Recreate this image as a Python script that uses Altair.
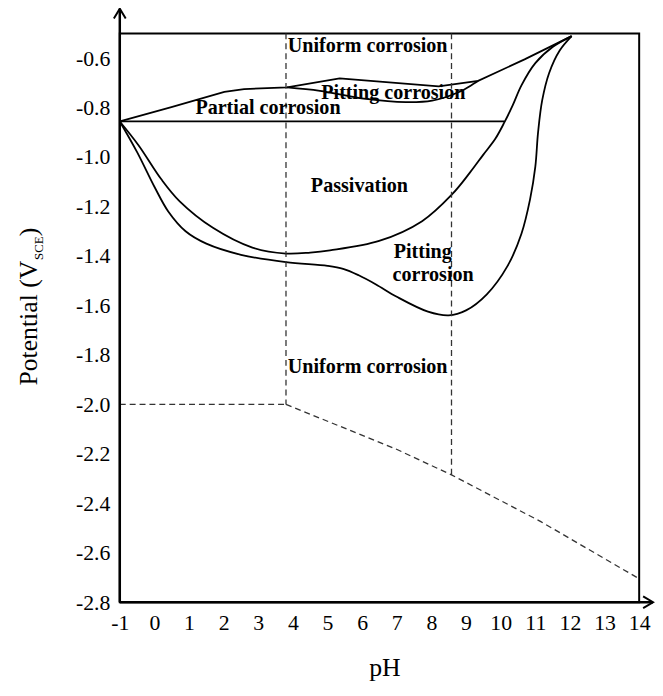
import altair as alt
import pandas as pd

# ---------------- data ----------------
x_ticks = list(range(-1, 15))
y_ticks = [-2.8, -2.6, -2.4, -2.2, -2.0, -1.8, -1.6, -1.4, -1.2, -1.0, -0.8, -0.6]

# upper boundary of "Partial corrosion" + upper branch of the pitting lens
a_x = [-1.0, 0.49, 2.02, 2.59, 3.83, 5.35, 8.21, 9.35, 10.69, 12.05]
a_y = [-0.856, -0.798, -0.736, -0.725, -0.718, -0.682, -0.714, -0.692, -0.605, -0.511]

# horizontal line (lower boundary of partial corrosion)
h_x = [-1.0, 10.11]
h_y = [-0.856, -0.856]

# lower branch of the upper pitting lens
b_x = [3.83, 4.78, 6.11, 7.26, 8.02, 8.78, 9.35]
b_y = [-0.718, -0.732, -0.765, -0.778, -0.772, -0.738, -0.692]

# inner curve (passivation lower boundary)
c_x = [-1.0, -0.46, 0.2, 0.73, 1.69, 2.83, 3.8, 4.5, 5.07, 6.49, 7.73, 8.6, 9.1, 9.5,
       9.85, 10.11, 10.35, 10.6, 11.0, 11.5, 12.05]
c_y = [-0.856, -0.952, -1.09, -1.179, -1.286, -1.366, -1.39, -1.386, -1.377, -1.339, -1.259,
       -1.15, -1.065, -0.99, -0.925, -0.859, -0.79, -0.71, -0.62, -0.555, -0.511]

# outer curve (pitting corrosion lower boundary)
d_x = [-1.0, -0.5, 0.0, 0.4, 0.9, 1.5, 2.5, 3.8, 5.0, 5.45, 5.9, 6.4, 7.0, 7.9, 8.5, 9.0,
       9.6, 10.2, 10.6, 10.85, 11.0, 11.08, 11.2, 11.4, 11.7, 12.05]
d_y = [-0.856, -0.98, -1.12, -1.22, -1.3, -1.35, -1.395, -1.425, -1.44, -1.452, -1.478,
       -1.515, -1.565, -1.625, -1.64, -1.62, -1.555, -1.44, -1.31, -1.17, -1.04, -0.9,
       -0.77, -0.66, -0.57, -0.511]

# dashed lines
dh_x = [-1.0, 3.8]
dh_y = [-2.0, -2.0]
dv1_x = [3.8, 3.8]
dv1_y = [-0.5, -2.0]
dv2_x = [8.58, 8.58]
dv2_y = [-0.5, -2.285]
ds_x = [3.8, 6.97, 8.58, 11.16, 14.0]
ds_y = [-2.0, -2.18, -2.285, -2.474, -2.705]

# region labels
lab_text = ["Uniform corrosion", "Pitting corrosion", "Partial corrosion", "Passivation",
            "Pitting", "corrosion", "Uniform corrosion"]
lab_x = [6.16, 6.9, 3.28, 5.92, 7.75, 8.05, 6.16]
lab_y = [-0.55, -0.743, -0.8, -1.116, -1.383, -1.477, -1.85]

# axis lines (with arrow tips beyond the frame)
axis_x = [-1.0, -1.0]
axis_y = [-2.8, -2.8]
axis_x2 = [-1.0, 14.4]
axis_y2 = [-0.4, -2.8]
tip_x = [-1.0, 14.4]
tip_y = [-0.4, -2.8]


def frame(series):
    rows = []
    for name, xs, ys in series:
        for i, (xv, yv) in enumerate(zip(xs, ys)):
            rows.append({"s": name, "i": i, "x": xv, "y": yv})
    return pd.DataFrame(rows)


linear_df = frame([("A", a_x, a_y), ("H", h_x, h_y)])
smooth_df = frame([("B", b_x, b_y), ("C", c_x, c_y), ("D", d_x, d_y)])
dash_df = frame([("dh", dh_x, dh_y), ("dv1", dv1_x, dv1_y), ("dv2", dv2_x, dv2_y), ("ds", ds_x, ds_y)])
lab_df = pd.DataFrame({"t": lab_text, "x": lab_x, "y": lab_y})
axis_df = pd.DataFrame({"x": axis_x, "y": axis_y, "x2": axis_x2, "y2": axis_y2})
up_df = pd.DataFrame({"x": tip_x[:1], "y": tip_y[:1]})
right_df = pd.DataFrame({"x": tip_x[1:], "y": tip_y[1:]})

SERIF = "Liberation Serif"

xs = alt.Scale(domain=[-1, 14], nice=False, zero=False)
ys = alt.Scale(domain=[-2.8, -0.5], nice=False, zero=False)

x_axis = alt.Axis(values=x_ticks, domain=False, ticks=False, grid=False, title=None,
                  labelFont=SERIF, labelFontSize=22, labelColor="black", labelPadding=11,
                  labelOverlap=False, labelFlush=False,
                  labelExpr="datum.value < 0 ? '-' + abs(datum.value) : '' + datum.value")
y_axis = alt.Axis(values=y_ticks, domain=False, ticks=False, grid=False, title=None,
                  labelFont=SERIF, labelFontSize=22, labelColor="black", labelPadding=10,
                  labelOverlap=False, labelFlush=False,
                  labelExpr="datum.value < 0 ? '-' + format(abs(datum.value), '.1f') : format(datum.value, '.1f')")

X = alt.X("x:Q", scale=xs, axis=x_axis)
Y = alt.Y("y:Q", scale=ys, axis=y_axis)

lin = alt.Chart(linear_df).mark_line(color="black", strokeWidth=1.8).encode(
    x=X, y=Y, detail="s:N", order="i:Q")
smooth = alt.Chart(smooth_df).mark_line(color="black", strokeWidth=1.8, interpolate="catmull-rom").encode(
    x=X, y=Y, detail="s:N", order="i:Q")
dash = alt.Chart(dash_df).mark_line(color="#333333", strokeWidth=1.3, strokeDash=[6, 4]).encode(
    x=X, y=Y, detail="s:N", order="i:Q")

labels = alt.Chart(lab_df).mark_text(font=SERIF, fontSize=20.3, fontWeight="bold",
                                     color="black", align="center", baseline="middle").encode(
    x=X, y=Y, text="t:N")

axes_lines = alt.Chart(axis_df).mark_rule(color="black", strokeWidth=2.5).encode(
    x=X, y=Y, x2="x2:Q", y2="y2:Q")
up_arrow = alt.Chart(up_df).mark_point(shape="M-0.6,1L0,0L0.6,1", size=400, filled=False,
                                       color="black", strokeWidth=2, opacity=1).encode(x=X, y=Y)
right_arrow = alt.Chart(right_df).mark_point(shape="M-1,-0.6L0,0L-1,0.6", size=400, filled=False,
                                             color="black", strokeWidth=2, opacity=1).encode(x=X, y=Y)

t_main = alt.Chart(pd.DataFrame({"t": ["Potential (V"]})).mark_text(
    font=SERIF, fontSize=26, angle=270, align="left", baseline="alphabetic", color="black").encode(
    text="t:N", x=alt.value(-84), y=alt.value(356))
t_sub = alt.Chart(pd.DataFrame({"t": ["SCE"]})).mark_text(
    font=SERIF, fontSize=13, angle=270, align="left", baseline="alphabetic", color="black").encode(
    text="t:N", x=alt.value(-78), y=alt.value(229))
t_close = alt.Chart(pd.DataFrame({"t": [")"]})).mark_text(
    font=SERIF, fontSize=26, angle=270, align="left", baseline="alphabetic", color="black").encode(
    text="t:N", x=alt.value(-84), y=alt.value(205))
t_ph = alt.Chart(pd.DataFrame({"t": ["pH"]})).mark_text(
    font=SERIF, fontSize=26, align="center", baseline="middle", color="black").encode(
    text="t:N", x=alt.value(268), y=alt.value(642))

chart = alt.layer(
    lin, smooth, dash, labels, axes_lines, up_arrow, right_arrow,
    t_main, t_sub, t_close, t_ph
).properties(
    width=525, height=575,
    padding={"left": 113, "top": 22, "right": 16, "bottom": 85},
    autosize=alt.AutoSizeParams(type="none"),
    background="white",
).configure_view(
    stroke="black", strokeWidth=2
).configure_axis(
    labelOverlap=False
)

chart.save("out.html", embed_options={"renderer": "svg", "actions": False})
